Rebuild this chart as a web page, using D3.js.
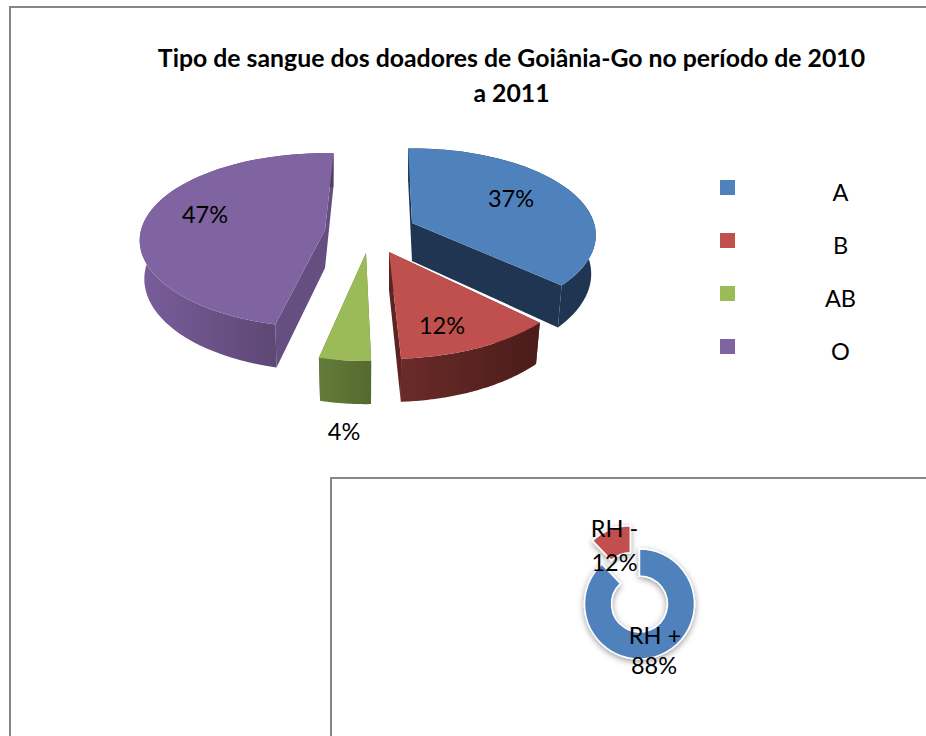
<!DOCTYPE html>
<html><head><meta charset="utf-8">
<script src="https://cdn.jsdelivr.net/npm/d3@7"></script>
<style>html,body{margin:0;padding:0;background:#fff;overflow:hidden}svg{display:block}text{font-family:Lato,sans-serif;fill:#000}</style>
</head><body><svg id="c" width="926" height="736"></svg>
<script>
const titleLines = ["Tipo de sangue dos doadores de Goiânia-Go no período de 2010", "a 2011"];
const bloodTypes = ["A", "B", "AB", "O"];
const bloodValues = [37, 12, 4, 47];
const rhLabels = ["RH +", "RH -"];
const rhValues = [88, 12];

const topColors = ["#4f81bd", "#c0504d", "#9bbb59", "#8064a2"];
const wallColors = ["#1f3552", "#5c2523", "#5e7533", "#654e80"];
const rimFrom = ["#1f3552", "#6a2b29", "#637c39", "#7a5d9b"];
const rimTo = ["#1f3552", "#4a1c1a", "#556a30", "#513f64"];

// per-slice placement of the exploded 3D pie (apex px, radii, perspective, twist in degrees)
const sliceLayout = [
  {ax:412, ay:223, R:182, ry:85, k:.14, rot:-1.4, lx:511, ly:207},
  {ax:389, ay:252, R:191, ry:94, k:.12, rot:.4,  lx:442, ly:334},
  {ax:366, ay:253, R:185, ry:95, k:.12, rot:2.2, lx:344, ly:440},
  {ax:325, ay:230, R:184, ry:86, k:.12, rot:3,   lx:205, ly:223}
];
const depth = 38;
const bottomShrink = .975;
const paintOrder = [3, 2, 0, 1];

const svg = d3.select("#c");
const defs = svg.append("defs");
const fs = defs.append("filter").attr("id","sh").attr("x","-30%").attr("y","-30%").attr("width","160%").attr("height","160%");
fs.append("feDropShadow").attr("dx",0).attr("dy",2).attr("stdDeviation",3).attr("flood-color","#000").attr("flood-opacity",.4);

// frames
const frame = "#868686";
svg.append("path").attr("d","M10,736V7H926").attr("fill","none").attr("stroke",frame).attr("stroke-width",2);

// title
svg.append("g").selectAll("text").data(titleLines).join("text")
  .attr("x",511.5).attr("y",(d,i)=>67+i*35).attr("text-anchor","middle")
  .attr("font-size",24.8).attr("font-weight",700).text(d=>d);

// 3D pie
const pieGen = d3.pie().sort(null).value(d=>d);
const arcs = pieGen(bloodValues);
const line = d3.line();
const g = svg.append("g");
paintOrder.forEach(i=>{
  const a = arcs[i], L = sliceLayout[i];
  const r = L.rot*Math.PI/180;
  const proj = (t,ρ,dz)=>{
    const X=Math.sin(t+r)*ρ, Y=-Math.cos(t+r)*ρ, s=1/(1-L.k*Y);
    const f = dz ? bottomShrink : 1;
    return [L.ax+L.R*X*s*f, L.ay+L.ry*Y*s+dz*s];
  };
  const ts = d3.range(0,61).map(j=>a.startAngle+(a.endAngle-a.startAngle)*j/60);
  const grad = "rim"+i;
  const xs = ts.map(t=>proj(t,1,0)[0]);
  const lg = defs.append("linearGradient").attr("id",grad).attr("gradientUnits","userSpaceOnUse")
    .attr("x1",d3.min(xs)).attr("x2",d3.max(xs)).attr("y1",0).attr("y2",0);
  lg.append("stop").attr("offset",0).attr("stop-color",rimFrom[i]);
  lg.append("stop").attr("offset",1).attr("stop-color",rimTo[i]);
  const s = g.append("g");
  [a.startAngle,a.endAngle].forEach(t=>{
    s.append("path").attr("fill",wallColors[i]).attr("d",line([proj(t,0,0),proj(t,1,0),proj(t,1,depth),proj(t,0,depth)])+"Z");
  });
  s.append("path").attr("fill",`url(#${grad})`)
    .attr("d",line(ts.map(t=>proj(t,1,0)).concat(ts.slice().reverse().map(t=>proj(t,1,depth))))+"Z");
  s.append("path").attr("fill",topColors[i])
    .attr("d",line([proj(a.startAngle,0,0)].concat(ts.map(t=>proj(t,1,0))))+"Z");
});
const total = d3.sum(bloodValues);
svg.append("g").selectAll("text").data(arcs).join("text")
  .attr("x",(d,i)=>sliceLayout[i].lx).attr("y",(d,i)=>sliceLayout[i].ly)
  .attr("text-anchor","middle").attr("font-size",23.5)
  .text(d=>Math.round(d.value/total*100)+"%");

// legend
const legendY = d3.scalePoint().domain(bloodTypes).range([187.5,346.5]);
const lg = svg.append("g").selectAll("g").data(bloodTypes).join("g");
lg.append("rect").attr("x",720).attr("y",d=>legendY(d)-7.5).attr("width",15).attr("height",15)
  .attr("fill",(d,i)=>topColors[i]);
lg.append("text").attr("x",840.5).attr("y",d=>legendY(d)+13.5).attr("text-anchor","middle").attr("font-size",23.5).text(d=>d);

// second chart frame
svg.append("rect").attr("x",331).attr("y",478).attr("width",700).attr("height",400).attr("fill","#fff").attr("stroke",frame).attr("stroke-width",2);

// donut
const cx=639.5, cy=604, explode=25;
const donutArcs = pieGen(rhValues);
const arcGen = d3.arc().innerRadius(28).outerRadius(55);
const dg = svg.append("g");
dg.selectAll("path").data(donutArcs).join("path")
  .attr("transform",(d,i)=>{
    if(i===0) return `translate(${cx},${cy})`;
    const m=(d.startAngle+d.endAngle)/2;
    return `translate(${cx+explode*Math.sin(m)},${cy-explode*Math.cos(m)})`;
  })
  .attr("d",arcGen).attr("fill",(d,i)=>topColors[i]).attr("stroke","#fff").attr("stroke-width",1.5).attr("filter","url(#sh)");
const rhPos=[{x:655,y:644},{x:614.5,y:537}];
const rt = svg.append("g").selectAll("text").data(donutArcs).join("text").attr("text-anchor","middle").attr("font-size",23.5);
rt.append("tspan").attr("x",(d,i)=>rhPos[i].x).attr("y",(d,i)=>rhPos[i].y).text((d,i)=>rhLabels[i]);
rt.append("tspan").attr("x",(d,i)=>rhPos[i].x-(i?0:1)).attr("y",(d,i)=>rhPos[i].y+(i?34:30)).text(d=>d.value+"%");
</script></body></html>
